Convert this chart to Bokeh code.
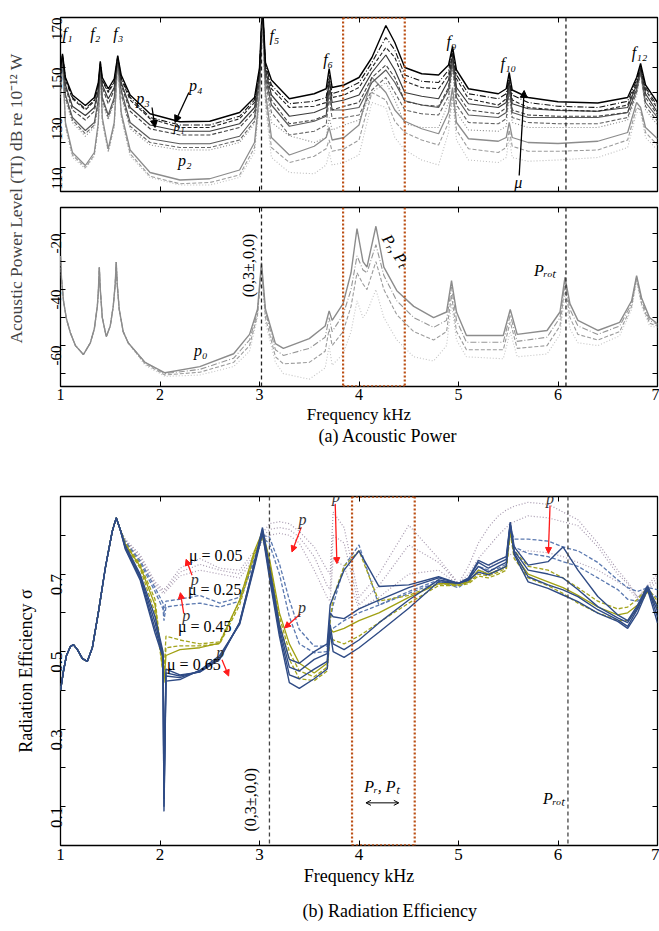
import math
from bokeh.plotting import figure
from bokeh.layouts import column, row
from bokeh.models import (Range1d, FixedTicker, LinearAxis, Span, Label, Arrow,
                          NormalHead, OpenHead, Title)
from bokeh.embed import file_html
from bokeh.resources import INLINE

FONT = "Liberation Serif"

# ------------------------------------------------------------------ data
X_TICKS = [1, 2, 3, 4, 5, 6, 7]

# (a) upper panel: acoustic power level, dB
F_A = [1.00, 1.02, 1.05, 1.12, 1.25, 1.34, 1.38, 1.40, 1.42, 1.48,
       1.54, 1.575, 1.61, 1.70, 1.90, 2.20, 2.50, 2.80, 2.95, 3.00,
       3.03, 3.06, 3.12, 3.30, 3.55, 3.67, 3.70, 3.73, 3.85, 4.00,
       4.13, 4.27, 4.36, 4.46, 4.63, 4.80, 4.90, 4.94, 4.98, 5.10,
       5.40, 5.48, 5.51, 5.54, 5.70, 6.00, 6.40, 6.70, 6.79, 6.83,
       6.88, 7.00]
A1 = [150, 155.5, 146, 139, 134.8, 138, 144, 152.5, 146, 141.5,
      145.5, 154.8, 147, 139, 131.5, 128.3, 128.5, 132, 138, 150,
      176, 152, 145, 137.5, 139.5, 141.5, 149.6, 142, 143, 146,
      154, 166.8, 160, 150, 147.5, 147, 151, 158.4, 149, 141.5,
      139.5, 141.5, 148, 141, 138, 136.3, 135.8, 138, 146, 151.6,
      143, 136]
A2 = [150, 155, 145.5, 138, 133.5, 137, 143, 152, 145, 140.5,
      144.5, 154.5, 146, 138, 130, 127, 127, 130.5, 137, 149,
      175, 151, 143, 135.5, 136.5, 138, 147, 139.5, 141, 144,
      152, 162, 157, 147, 144.5, 144, 149, 157, 147, 139.5,
      137.5, 139.5, 146.5, 139, 136, 134.5, 134, 136.5, 145, 150.5,
      142, 134.5]
A3 = [149, 155, 145, 137.5, 133, 136.5, 142.5, 151.5, 144.5, 140,
      144, 154, 145.5, 137, 129.5, 126, 126, 129.5, 136, 148.5,
      174, 150, 141.5, 134, 134.5, 136, 145.5, 138, 139, 142,
      150, 158, 154, 144.5, 142, 141.5, 147, 156, 145.5, 137.5,
      135, 137.5, 145, 137, 134, 133, 132.5, 135, 144, 150,
      141, 133.5]
B1 = [148, 154.5, 143, 134.5, 130.8, 134, 141, 151, 143, 137.5,
      142, 153.5, 144, 134, 127, 124.5, 124.5, 127.5, 134, 147,
      174, 149, 139, 130.5, 132, 134, 144, 136, 137, 139,
      148, 155, 149, 140, 138.5, 137.5, 145, 155, 142, 135.5,
      134, 136, 145, 135.5, 133.5, 132.8, 132.5, 134, 143, 149.5,
      139.5, 132]
B2 = [147, 154, 142, 133, 129, 132.5, 140, 150.5, 142, 135.5,
      141, 153, 143, 132.5, 125.5, 123, 123, 126, 132.5, 146,
      173, 147.5, 137, 127.5, 129, 131, 141, 133, 134.5, 136,
      146, 151, 146, 136.5, 135, 134.5, 142, 154, 140, 133,
      131.5, 134, 143.5, 133, 131, 130.5, 130.5, 132, 142, 149,
      138, 131]
C1 = [146, 153.5, 139, 130, 124.8, 128, 137, 150, 138, 131,
      138, 153, 141, 128, 121.5, 119.5, 119.5, 122.5, 130, 145,
      173, 146, 135, 126.5, 128.5, 130.5, 141, 133, 133, 134,
      144, 149, 144, 136.7, 135, 134, 141, 153, 138, 131,
      130, 132, 143, 132, 130, 130, 130, 132, 141, 148.5,
      136, 130]
C2 = [145, 153, 138, 129, 123.5, 127, 136, 149.5, 137, 130,
      137, 152.5, 139.5, 126.5, 120, 118, 118, 121, 128.5, 144,
      172, 144, 132, 123, 124.5, 127, 138, 129.5, 130, 131,
      141, 146, 140, 133, 131.5, 131, 138.5, 151, 135, 128,
      127.5, 129.5, 141, 130, 128, 127.5, 127.5, 130, 140, 148,
      134.5, 128.5]
C3 = [144, 152.5, 137, 128, 122.5, 126, 135, 149, 136, 129,
      136, 152, 138.5, 125.5, 119, 117, 117, 120, 127.5, 143,
      171, 142, 128, 122.7, 120, 122, 130, 125, 127, 129,
      140, 144, 137, 127.5, 126, 126, 136, 150, 132, 125,
      124.5, 126.5, 139, 128, 126, 126, 126, 129, 139, 147.5,
      133, 127]
D1 = [140, 153, 128, 116, 110.8, 116, 128, 151, 130, 117.5,
      128, 153, 132, 117, 108, 105, 105.5, 109, 120, 140,
      170, 140, 122, 115, 118.5, 122, 126, 121, 122, 127,
      146, 140, 133, 128.5, 125.5, 123.5, 132, 142, 128, 121.5,
      120.5, 122, 128, 122, 120, 119.6, 120.5, 124, 136, 134,
      126, 121.5]
D2 = [139, 152.5, 127, 115, 110, 115, 127, 150.5, 129, 116.5,
      127, 152.5, 131, 115.5, 106.5, 103.5, 104, 107, 118, 138,
      168, 137, 118, 112, 114.5, 117.5, 121, 116.5, 117.5, 121,
      140, 137, 128.5, 124, 121, 119, 128, 140, 125, 117.5,
      116, 118, 125, 118.5, 116.5, 116.5, 117, 121, 134, 133,
      124, 119]
D3 = [138, 152, 126, 114, 109.5, 114.5, 126, 150, 128, 116,
      126, 152, 130, 114.5, 106, 103, 103, 106, 116, 136,
      166, 134, 114, 108, 107.5, 111, 116, 111, 112, 115,
      136, 134, 122, 117, 113, 111, 124, 138, 121, 113,
      112, 114, 122, 114, 112.5, 113, 114, 118, 132, 132,
      122, 117]
TOP_Y_TICKS = [110, 120, 130, 140, 150, 160, 170]
TOP_Y_LABELS = ["110", "", "130", "", "150", "", "170"]

# (a) lower panel -- all four curves coincide below 1.7 kHz
F_M_HEAD = [1.00, 1.01, 1.03, 1.06, 1.10, 1.15, 1.23, 1.30, 1.34, 1.37,
            1.38, 1.39, 1.40, 1.42, 1.46, 1.50, 1.53, 1.55, 1.56, 1.57,
            1.59, 1.63, 1.68]
M_HEAD = [-28, -36, -44, -50.5, -55.5, -60, -63.2, -59, -54, -46,
          -41, -32, -40, -50, -56.8, -53, -46, -38, -30.2, -38,
          -47, -55, -59]
F_M_TAIL = [1.85, 2.05, 2.40, 2.74, 2.90, 2.98, 3.02, 3.06, 3.16, 3.24,
            3.50, 3.66, 3.70, 3.73, 3.84, 3.92, 3.98, 4.04, 4.08, 4.17,
            4.25, 4.38, 4.55, 4.75, 4.88, 4.93, 4.98, 5.08, 5.45, 5.52,
            5.59, 5.89, 6.02, 6.07, 6.12, 6.20, 6.40, 6.62, 6.74, 6.79,
            6.84, 6.92, 7.00]
MS = [-66, -69.7, -67.5, -62.9, -56, -47, -30.4, -47, -59.3, -61,
      -57.5, -53, -47.6, -51, -45, -34, -18.2, -30, -32, -17.4,
      -32, -40.4, -46, -50, -48, -36.8, -48, -56.4, -56.4, -47.1,
      -56, -54.6, -48, -35.6, -45, -51, -54.6, -51.7, -44, -35,
      -43, -50, -52.2]
MDD = [-66, -70, -68.5, -64.5, -58, -48, -31, -48, -61.5, -63.5,
       -61, -57, -50, -55, -49, -40, -28, -33, -34, -24,
       -35, -44, -50, -53.5, -51, -39, -51, -58.8, -58.8, -49,
       -58.5, -57, -50, -37, -47, -53, -56, -53, -45, -35.5,
       -44, -51, -52.5]
MD = [-66.5, -70.5, -69.5, -66, -60, -49, -31.5, -50, -64, -66.5,
      -66, -62, -54, -60, -55, -46, -34, -38, -40, -30,
      -40, -49, -55, -58, -55, -42, -55, -61.5, -61.5, -51.5,
      -61, -60, -53, -38.5, -50, -56, -58, -55, -46, -36,
      -45, -52, -53]
MT = [-67, -71, -70.5, -67.5, -62, -50, -32, -52, -66, -70,
      -72, -68, -60, -67, -63, -55, -44, -50, -48, -40,
      -50, -58, -64, -65.5, -60, -45, -58, -64, -64.7, -55,
      -64, -63, -56, -41, -54, -59, -60, -56.5, -47, -37,
      -46, -53, -53.5]
MID_Y_TICKS = [-70, -60, -50, -40, -30, -20]
MID_Y_LABELS = ["", "-60", "", "-40", "", "-20"]

# (b) radiation efficiency -- all curves coincide below 1.6 kHz
F_B_HEAD = [1.00, 1.03, 1.06, 1.10, 1.13, 1.17, 1.22, 1.27, 1.32, 1.38,
            1.45, 1.52, 1.56, 1.60]
B_HEAD = [0.40, 0.45, 0.49, 0.513, 0.518, 0.505, 0.482, 0.475, 0.51, 0.60,
          0.715, 0.81, 0.845, 0.815]
F_B_TAIL = [1.65, 1.80, 1.95, 2.03, 2.04, 2.06, 2.20, 2.40, 2.60, 2.80,
            2.95, 3.03, 3.10, 3.20, 3.30, 3.40, 3.55, 3.68, 3.71, 3.74,
            3.85, 4.00, 4.20, 4.50, 4.80, 5.00, 5.10, 5.20, 5.30, 5.40,
            5.48, 5.52, 5.56, 5.70, 5.90, 6.05, 6.20, 6.40, 6.60, 6.70,
            6.80, 6.90, 7.00]
BL1 = [0.775, 0.70, 0.59, 0.50, 0.15, 0.455, 0.44, 0.447, 0.48, 0.575,
       0.73, 0.82, 0.72, 0.57, 0.48, 0.47, 0.50, 0.52, 0.62, 0.64,
       0.71, 0.76, 0.668, 0.672, 0.693, 0.676, 0.69, 0.735, 0.723, 0.736,
       0.745, 0.834, 0.77, 0.723, 0.732, 0.77, 0.71, 0.642, 0.595, 0.58,
       0.62, 0.67, 0.615]
BL2 = [0.77, 0.695, 0.575, 0.495, 0.12, 0.445, 0.437, 0.448, 0.483, 0.575,
       0.73, 0.815, 0.71, 0.56, 0.46, 0.45, 0.48, 0.495, 0.60, 0.59,
       0.585, 0.61, 0.633, 0.665, 0.69, 0.676, 0.688, 0.73, 0.715, 0.728,
       0.738, 0.83, 0.76, 0.71, 0.70, 0.69, 0.66, 0.616, 0.587, 0.575,
       0.615, 0.665, 0.605]
BL3 = [0.768, 0.69, 0.56, 0.49, 0.10, 0.437, 0.433, 0.45, 0.485, 0.572,
       0.725, 0.81, 0.70, 0.55, 0.44, 0.43, 0.455, 0.475, 0.57, 0.52,
       0.505, 0.53, 0.574, 0.633, 0.685, 0.676, 0.686, 0.72, 0.705, 0.72,
       0.73, 0.83, 0.755, 0.693, 0.672, 0.659, 0.642, 0.608, 0.582, 0.565,
       0.61, 0.665, 0.59]
BL4 = [0.765, 0.685, 0.548, 0.485, 0.088, 0.424, 0.428, 0.452, 0.49, 0.57,
       0.72, 0.805, 0.69, 0.54, 0.42, 0.405, 0.43, 0.455, 0.55, 0.50,
       0.485, 0.51, 0.55, 0.612, 0.68, 0.676, 0.684, 0.705, 0.698, 0.71,
       0.72, 0.825, 0.75, 0.68, 0.663, 0.646, 0.629, 0.599, 0.578, 0.56,
       0.60, 0.66, 0.574]
M1 = [0.79, 0.75, 0.68, 0.66, 0.66, 0.665, 0.715, 0.74, 0.715, 0.71,
      0.76, 0.805, 0.83, 0.835, 0.83, 0.81, 0.77, 0.71, 0.70, 0.86,
      0.82, 0.64, 0.70, 0.826, 0.74, 0.676, 0.72, 0.78, 0.82, 0.85,
      0.865, 0.87, 0.875, 0.885, 0.88, 0.86, 0.84, 0.78, 0.71, 0.68,
      0.64, 0.67, 0.70]
M2 = [0.788, 0.745, 0.675, 0.655, 0.655, 0.66, 0.705, 0.725, 0.71, 0.70,
      0.75, 0.795, 0.815, 0.82, 0.815, 0.795, 0.745, 0.67, 0.66, 0.80,
      0.78, 0.62, 0.67, 0.775, 0.73, 0.675, 0.70, 0.74, 0.77, 0.80,
      0.82, 0.83, 0.835, 0.85, 0.845, 0.835, 0.825, 0.77, 0.70, 0.675,
      0.64, 0.665, 0.69]
M3 = [0.785, 0.74, 0.67, 0.65, 0.65, 0.655, 0.695, 0.71, 0.70, 0.69,
      0.74, 0.785, 0.80, 0.805, 0.80, 0.78, 0.71, 0.64, 0.63, 0.74,
      0.72, 0.61, 0.64, 0.70, 0.71, 0.673, 0.685, 0.70, 0.72, 0.735,
      0.745, 0.75, 0.755, 0.76, 0.755, 0.745, 0.73, 0.71, 0.68, 0.665,
      0.635, 0.66, 0.68]
LB1 = [0.785, 0.735, 0.665, 0.625, 0.60, 0.63, 0.635, 0.645, 0.625, 0.64,
       0.74, 0.80, 0.795, 0.727, 0.633, 0.557, 0.514, 0.514, 0.58, 0.62,
       0.72, 0.775, 0.62, 0.65, 0.68, 0.665, 0.685, 0.72, 0.71, 0.715,
       0.725, 0.82, 0.79, 0.79, 0.785, 0.77, 0.76, 0.73, 0.685, 0.665,
       0.655, 0.665, 0.66]
LB2 = [0.782, 0.73, 0.655, 0.61, 0.58, 0.615, 0.62, 0.625, 0.615, 0.63,
       0.735, 0.795, 0.778, 0.70, 0.59, 0.52, 0.497, 0.50, 0.56, 0.56,
       0.58, 0.60, 0.62, 0.655, 0.685, 0.67, 0.68, 0.71, 0.70, 0.71,
       0.72, 0.815, 0.77, 0.753, 0.745, 0.732, 0.72, 0.69, 0.66, 0.635,
       0.63, 0.655, 0.64]
OL1 = [0.778, 0.72, 0.62, 0.45, 0.42, 0.49, 0.505, 0.51, 0.522, 0.633,
       0.76, 0.81, 0.74, 0.60, 0.52, 0.47, 0.445, 0.47, 0.56, 0.55,
       0.56, 0.58, 0.60, 0.64, 0.675, 0.675, 0.68, 0.71, 0.70, 0.71,
       0.72, 0.815, 0.75, 0.70, 0.68, 0.665, 0.645, 0.615, 0.595, 0.60,
       0.62, 0.655, 0.62]
OL2 = [0.78, 0.725, 0.635, 0.46, 0.44, 0.54, 0.53, 0.52, 0.525, 0.63,
       0.755, 0.80, 0.73, 0.59, 0.50, 0.45, 0.435, 0.46, 0.58, 0.64,
       0.72, 0.76, 0.63, 0.645, 0.675, 0.672, 0.678, 0.70, 0.695, 0.705,
       0.715, 0.81, 0.76, 0.72, 0.71, 0.69, 0.665, 0.63, 0.61, 0.615,
       0.635, 0.665, 0.63]
OL3 = [0.775, 0.715, 0.60, 0.445, 0.43, 0.51, 0.515, 0.515, 0.52, 0.62,
       0.75, 0.795, 0.72, 0.575, 0.48, 0.43, 0.425, 0.45, 0.54, 0.53,
       0.52, 0.54, 0.575, 0.625, 0.67, 0.67, 0.675, 0.695, 0.69, 0.70,
       0.71, 0.805, 0.74, 0.69, 0.67, 0.65, 0.625, 0.60, 0.58, 0.58,
       0.61, 0.655, 0.61]
BOT_Y_TICKS = [0.1, 0.2, 0.3, 0.4, 0.5, 0.6, 0.7, 0.8]
BOT_Y_LABELS = ["0.1", "", "0.3", "", "0.5", "", "0.7", ""]

# marker lines / boxes (kHz)
VLINES_A = [3.02, 6.08]
BOX_A = [3.84, 4.46]
VLINES_B = [3.10, 6.10]
BOX_B = [3.93, 4.56]

# ------------------------------------------------------------------ styles
TOP_STYLE = [  # name, color, dash, width
    ("D3", "#bdbdbd", "1 2", 1.1), ("D2", "#9c9c9c", "4 2", 1.1),
    ("D1", "#8c8c8c", "solid", 1.3), ("C3", "#8a8a8a", "1 2", 1.1),
    ("C2", "#666666", "4 2", 1.1), ("C1", "#5a5a5a", "solid", 1.2),
    ("B2", "#444444", "4 2", 1.1), ("B1", "#3a3a3a", "solid", 1.2),
    ("A3", "#222222", "4 2", 1.1), ("A2", "#111111", "6 2 1 2", 1.1),
    ("A1", "#000000", "solid", 1.4)]
TOP_SERIES = dict(A1=A1, A2=A2, A3=A3, B1=B1, B2=B2, C1=C1, C2=C2, C3=C3,
                  D1=D1, D2=D2, D3=D3)
MID_STYLE = [("MT", "#c4c4c4", "1 2", 1.1), ("MD", "#9c9c9c", "4 2", 1.1),
             ("MDD", "#969696", "6 2 1 2", 1.1), ("MS", "#8c8c8c", "solid", 1.4)]
MID_SERIES = dict(MS=MS, MDD=MDD, MD=MD, MT=MT)
BOT_STYLE = [("M3", "#ab9db2", "1 2", 1.2), ("M2", "#a597ad", "1 2", 1.2),
             ("M1", "#a597ad", "1 2", 1.2),
             ("LB2", "#5b79b0", "4 2", 1.3), ("LB1", "#5b79b0", "4 2", 1.3),
             ("OL3", "#a4a41c", "4 2", 1.3), ("OL2", "#a4a41c", "4 2", 1.3),
             ("OL1", "#a0a012", "solid", 1.3),
             ("BL4", "#2f4b85", "solid", 1.4), ("BL3", "#2f4b85", "solid", 1.4),
             ("BL2", "#2f4b85", "solid", 1.4), ("BL1", "#2f4b85", "solid", 1.4)]
BOT_SERIES = dict(BL1=BL1, BL2=BL2, BL3=BL3, BL4=BL4, M1=M1, M2=M2, M3=M3,
                  LB1=LB1, LB2=LB2, OL1=OL1, OL2=OL2, OL3=OL3)
ORANGE = "#bb4f14"


# ------------------------------------------------------------------ helpers
def base_fig(width, height, y0, y1, left, right, top, bottom):
    p = figure(width=width, height=height, x_range=Range1d(1, 7),
               y_range=Range1d(y0, y1), output_backend="svg",
               toolbar_location=None, title=None,
               x_axis_location=None, y_axis_location=None,
               min_border_left=left, min_border_right=right,
               min_border_top=top, min_border_bottom=bottom)
    p.grid.visible = False
    p.outline_line_color = "black"
    p.outline_line_width = 1.3
    p.outline_line_alpha = 1.0
    p.background_fill_color = "white"
    p.border_fill_color = "white"
    return p


def add_axis(p, side, ticks, labels=None, size="15px", standoff=4, orient=None):
    ax = LinearAxis(ticker=FixedTicker(ticks=ticks))
    ax.axis_line_color = None
    ax.major_tick_in = 5
    ax.major_tick_out = 0
    ax.major_tick_line_color = "black"
    ax.major_tick_line_width = 1
    ax.minor_tick_line_color = None
    ax.major_label_text_font = FONT
    ax.major_label_text_color = "black"
    if labels is None:
        ax.major_label_overrides = {t: "" for t in ticks}
        ax.major_label_text_font_size = "0px"
        ax.major_label_standoff = 0
    else:
        ax.major_label_overrides = {t: s for t, s in zip(ticks, labels)}
        ax.major_label_text_font_size = size
        ax.major_label_standoff = standoff
    if orient is not None:
        ax.major_label_orientation = orient
    p.add_layout(ax, side)
    return ax


def side_title(p, side, text, size, standoff, align="center", offset=0):
    p.add_layout(Title(text=text, align=align, offset=offset, text_font=FONT,
                       text_font_size=size, text_font_style="normal",
                       text_color="black", standoff=standoff), side)


def txt(p, x, y, s, size="16px", style="italic", angle=0.0, color="black"):
    p.add_layout(Label(x=x, y=y, text=s, text_font=FONT, text_font_size=size,
                       text_font_style=style, text_align="center",
                       text_baseline="middle", angle=angle, text_color=color))


def arrow(p, x0, y0, x1, y1, color="black", size=7):
    p.add_layout(Arrow(end=NormalHead(size=size, fill_color=color,
                                      line_color=color, line_width=1),
                       x_start=x0, y_start=y0, x_end=x1, y_end=y1,
                       line_color=color, line_width=1.3))


# ------------------------------------------------------------------ (a) top
pA1 = base_fig(631, 199, 100.4, 170, 32, 2, 17, 8)
for name, col, dash, w in TOP_STYLE:
    pA1.line(F_A, TOP_SERIES[name], line_color=col, line_dash=dash, line_width=w)
for xv in VLINES_A:
    pA1.add_layout(Span(location=xv, dimension="height", line_color="#222222",
                        line_dash="4 3", line_width=1.3))
for xv in BOX_A:
    pA1.add_layout(Span(location=xv, dimension="height", line_color=ORANGE,
                        line_dash="2 2", line_width=2.2))
pA1.segment(x0=[BOX_A[0]], y0=[170], x1=[BOX_A[1]], y1=[170],
            line_color=ORANGE, line_dash="2 2", line_width=2.6)
add_axis(pA1, "above", X_TICKS)
add_axis(pA1, "below", X_TICKS)
add_axis(pA1, "right", TOP_Y_TICKS)
add_axis(pA1, "left", TOP_Y_TICKS, TOP_Y_LABELS, size="15px", standoff=4,
         orient=math.pi / 2)

for s, x, y in zip(["f₁", "f₂", "f₃", "f₅", "f₆", "f₉", "f₁₀", "f₁₂"],
                   [1.07, 1.35, 1.58, 3.15, 3.69, 4.93, 5.50, 6.82],
                   [163.6, 163.6, 163.6, 162.8, 153.2, 160.4, 151.6, 156.0]):
    txt(pA1, x, y, s)
txt(pA1, 1.83, 137.6, "p₃")
txt(pA1, 2.36, 142.8, "p₄")
txt(pA1, 2.19, 126.6, "p₁", size="13px")
txt(pA1, 2.25, 112.8, "p₂")
txt(pA1, 5.60, 104.0, "μ")
arrow(pA1, 1.92, 134.0, 1.95, 126.0)
arrow(pA1, 2.29, 140.0, 2.15, 128.0)
arrow(pA1, 5.61, 106.8, 5.66, 140.8)

# ------------------------------------------------------------------ (a) lower
pA2 = base_fig(631, 251, -74.6, -10.7, 32, 2, 8, 64)
for name, col, dash, w in MID_STYLE:
    pA2.line(F_M_HEAD + F_M_TAIL, M_HEAD + MID_SERIES[name], line_color=col,
             line_dash=dash, line_width=w)
for xv in VLINES_A:
    pA2.add_layout(Span(location=xv, dimension="height", line_color="#222222",
                        line_dash="4 3", line_width=1.3))
for xv in BOX_A:
    pA2.add_layout(Span(location=xv, dimension="height", line_color=ORANGE,
                        line_dash="2 2", line_width=2.2))
pA2.segment(x0=[BOX_A[0]], y0=[-74.6], x1=[BOX_A[1]], y1=[-74.6],
            line_color=ORANGE, line_dash="2 2", line_width=2.6)
add_axis(pA2, "above", X_TICKS)
add_axis(pA2, "right", MID_Y_TICKS)
add_axis(pA2, "left", MID_Y_TICKS, MID_Y_LABELS, size="15px", standoff=4,
         orient=math.pi / 2)
add_axis(pA2, "below", X_TICKS, [str(t) for t in X_TICKS], size="16px",
         standoff=2)
side_title(pA2, "below", "Frequency kHz", "17px", 0)
side_title(pA2, "below", "(a)  Acoustic Power", "18px", 0, align="left",
           offset=258)
txt(pA2, 2.89, -31.4, "(0,3±,0,0)", size="16px", style="normal",
    angle=math.pi / 2)
txt(pA2, 4.37, -26.1, "Pᵣ, Pₜ", size="16px", angle=-1.0)
txt(pA2, 5.87, -33.2, "Pᵣₒₜ")
txt(pA2, 2.41, -61.8, "p₀")

labA = figure(width=28, height=450, x_range=Range1d(0, 1),
              y_range=Range1d(0, 450), output_backend="svg",
              toolbar_location=None, title=None, x_axis_location=None,
              y_axis_location=None, min_border=0)
labA.outline_line_color = None
labA.grid.visible = False
labA.add_layout(Label(x=0.54, y=252, text="Acoustic Power Level (TI) dB re 10⁻¹² W",
                      angle=math.pi / 2, text_align="center",
                      text_baseline="middle", text_font=FONT,
                      text_font_size="17.5px"))

# ------------------------------------------------------------------ (b)
pB = base_fig(659, 481, 0.0, 0.9, 60, 2, 46, 84)
for name, col, dash, w in BOT_STYLE:
    pB.line(F_B_HEAD + F_B_TAIL, B_HEAD + BOT_SERIES[name], line_color=col,
            line_dash=dash, line_width=w)
for xv in VLINES_B:
    pB.add_layout(Span(location=xv, dimension="height", line_color="#444444",
                       line_dash="4 3", line_width=1.3))
for xv in BOX_B:
    pB.add_layout(Span(location=xv, dimension="height", line_color=ORANGE,
                       line_dash="2 2", line_width=2.2))
pB.segment(x0=[BOX_B[0], BOX_B[0]], y0=[0.0, 0.9], x1=[BOX_B[1], BOX_B[1]],
           y1=[0.0, 0.9], line_color=ORANGE, line_dash="2 2", line_width=2.6)
add_axis(pB, "above", X_TICKS)
add_axis(pB, "right", BOT_Y_TICKS)
add_axis(pB, "left", BOT_Y_TICKS, BOT_Y_LABELS, size="17px", standoff=4,
         orient=math.pi / 2)
side_title(pB, "left", "Radiation Efficiency σ", "18px", 14)
add_axis(pB, "below", X_TICKS, [str(t) for t in X_TICKS], size="17px",
         standoff=3)
side_title(pB, "below", "Frequency kHz", "18px", 3)
side_title(pB, "below", "(b)  Radiation Efficiency", "18px", 22, align="left",
           offset=242)

for s, x, y in zip(["μ = 0.05", "μ = 0.25", "μ = 0.45", "μ = 0.65"],
                   [2.56, 2.55, 2.45, 2.34], [0.749, 0.659, 0.564, 0.467]):
    txt(pB, x, y, s, size="16px", style="normal")
RED = "#ff1a1a"
for lx, ly, x0, y0, x1, y1 in [
        (2.35, 0.686, 2.322, 0.697, 2.262, 0.738),
        (2.265, 0.592, 2.238, 0.599, 2.205, 0.652),
        (2.606, 0.497, 2.623, 0.479, 2.69, 0.437),
        (3.433, 0.84, 3.42, 0.821, 3.326, 0.757),
        (3.427, 0.615, 3.41, 0.597, 3.252, 0.561),
        (3.768, 0.90, 3.761, 0.881, 3.778, 0.727),
        (5.92, 0.894, 5.92, 0.877, 5.903, 0.753)]:
    arrow(pB, x0, y0, x1, y1, color=RED, size=6)
    txt(pB, lx, ly, "p", size="16px", color="#333333")
txt(pB, 2.91, 0.118, "(0,3±,0,0)", size="16px", style="normal",
    angle=math.pi / 2)
txt(pB, 4.23, 0.151, "Pᵣ, Pₜ")
txt(pB, 5.96, 0.12, "Pᵣₒₜ")
pB.add_layout(Arrow(start=OpenHead(size=5, line_width=1),
                    end=OpenHead(size=5, line_width=1),
                    x_start=4.07, y_start=0.110, x_end=4.40, y_end=0.110,
                    line_color="black", line_width=1))

layout = column(row(labA, column(pA1, pA2, spacing=0), spacing=0), pB,
                spacing=0)
open("out.html", "w").write(file_html(layout, INLINE))
